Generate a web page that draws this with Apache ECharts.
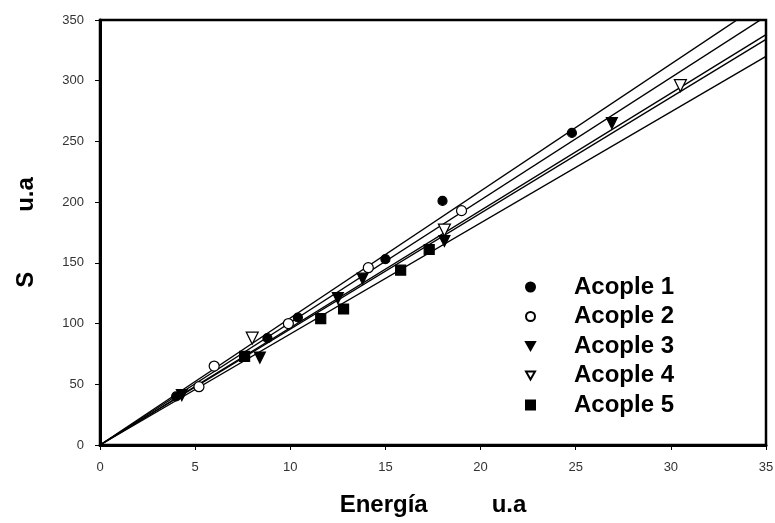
<!DOCTYPE html>
<html>
<head>
<meta charset="utf-8">
<script src="https://cdn.jsdelivr.net/npm/echarts@6/dist/echarts.min.js"></script>
<style>
  html, body { margin: 0; padding: 0; background: #fff; }
  #chart { width: 775px; height: 523px; }
</style>
</head>
<body>
<div id="chart"></div>
<script>
// points: [energia, S]
const acople1 = [[4.0, 40], [8.8, 88], [10.4, 105], [15.0, 153], [18.0, 201], [24.8, 257]];
const acople2 = [[5.2, 48], [6.0, 65], [9.9, 100], [14.1, 146], [19.0, 193]];
const acople3 = [[4.3, 41], [8.4, 72], [12.5, 121], [13.8, 137], [18.1, 168], [26.9, 265]];
const acople4 = [[8.0, 88], [18.1, 177], [30.5, 296]];
const acople5 = [[7.6, 73], [11.6, 104], [12.8, 112], [15.8, 144], [17.3, 161]];

// fitted lines (start / end)
const fit1 = [[0, 0], [35, 366]];
const fit2 = [[0, 0], [35, 353]];
const fit3 = [[0, 0], [35, 338]];
const fit4 = [[0, 0], [35, 334]];
const fit5 = [[0, 0], [35, 320]];

const names = ["Acople 1", "Acople 2", "Acople 3", "Acople 4", "Acople 5"];
const xTicks = [0, 35, 5];
const yTicks = [0, 350, 50];

const downTri = "path://M0,0 L10,0 L5,9 Z";
const font = "Arial, 'Liberation Sans'";

const chart = echarts.init(document.getElementById("chart"));

function pts(name, data, symbol, fill, size) {
  return {
    name: name,
    type: "scatter",
    data: data,
    symbol: symbol,
    symbolSize: size,
    itemStyle: { color: fill, borderColor: "#000", borderWidth: 1.2, opacity: 1 },
    z: 5
  };
}

function fitLine(data) {
  return {
    type: "line",
    data: data,
    symbol: "none",
    silent: true,
    lineStyle: { color: "#000", width: 1.4 },
    z: 3
  };
}

chart.setOption({
  animation: false,
  backgroundColor: "#fff",
  grid: {
    left: 100, right: 9, top: 20, bottom: 78,
    containLabel: false,
    outerBoundsMode: "none",
    show: true, borderColor: "#000", borderWidth: 2.5
  },
  legend: {
    data: names,
    orient: "vertical",
    left: 525,
    top: 275,
    padding: 0,
    itemWidth: 9,
    itemHeight: 9,
    itemGap: 5.5,
    textStyle: {
      fontFamily: font,
      fontWeight: "bold",
      fontSize: 24,
      color: "#000",
      padding: [0, 0, 0, 34]
    }
  },
  xAxis: {
    type: "value",
    min: xTicks[0], max: xTicks[1], interval: xTicks[2],
    name: "{a|Energía}{b|u.a}",
    nameLocation: "middle",
    nameGap: 48,
    nameTextStyle: {
      rich: {
        a: { fontFamily: font, fontWeight: "bold", fontSize: 24, color: "#000" },
        b: { fontFamily: font, fontWeight: "bold", fontSize: 24, color: "#000", padding: [0, 0, 0, 64] }
      }
    },
    axisLine: { lineStyle: { color: "#000", width: 3 } },
    axisTick: { length: 5, lineStyle: { color: "#000", width: 1 } },
    axisLabel: { fontFamily: font, fontSize: 13, color: "#333", margin: 16 },
    splitLine: { show: false }
  },
  yAxis: {
    type: "value",
    min: yTicks[0], max: yTicks[1], interval: yTicks[2],
    name: "{a|S}{b|u.a}",
    nameLocation: "middle",
    nameGap: 62,
    nameRotate: 90,
    nameTextStyle: {
      rich: {
        a: { fontFamily: font, fontWeight: "bold", fontSize: 24, color: "#000" },
        b: { fontFamily: font, fontWeight: "bold", fontSize: 24, color: "#000", padding: [0, 0, 0, 60] }
      }
    },
    axisLine: { lineStyle: { color: "#000", width: 3 } },
    axisTick: { length: 5, lineStyle: { color: "#000", width: 1 } },
    axisLabel: { fontFamily: font, fontSize: 13, color: "#333", margin: 16 },
    splitLine: { show: false }
  },
  series: [
    fitLine(fit1), fitLine(fit2), fitLine(fit3), fitLine(fit4), fitLine(fit5),
    pts(names[0], acople1, "circle", "#000", 9),
    pts(names[1], acople2, "circle", "#fff", 10),
    pts(names[2], acople3, downTri, "#000", 11),
    pts(names[3], acople4, downTri, "#fff", 12),
    pts(names[4], acople5, "rect", "#000", 10)
  ]
});
</script>
</body>
</html>
